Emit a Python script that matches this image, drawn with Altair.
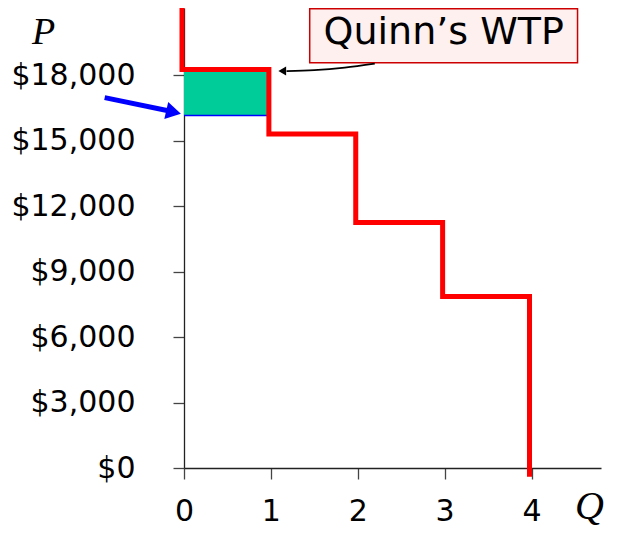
import altair as alt
import pandas as pd

# ---- data ----
q_units = [1, 2, 3, 4]
wtp = [18250, 15300, 11250, 7850]          # step heights (Quinn's WTP etc.)
p_top = 21500                              # red line runs off the top
p_bottom = -400                            # red line runs just past the axis
price_line = 16150                         # blue line (price)
y_ticks = [0, 3000, 6000, 9000, 12000, 15000, 18000]
x_ticks = [0, 1, 2, 3, 4]
x_max = 4.8
y_max = 21070

# annotation box / arrows (data coordinates)
box_x = [1.447, 4.53]
box_y = [18566, 21030]
label_pos = [2.99, 19430]
label_text = "Quinn\u2019s WTP"
curve_q = [2.196, 1.85, 1.50, 1.18]
curve_p = [18520, 18340, 18225, 18180]
curve_head = [1.131, 18180]
blue_start = [-0.913, 16963]
blue_end = [-0.14, 16330]
blue_head = [-0.12, 16300]

# ---- build tables ----
sq, sp = [0], [p_top]
for q, p in zip(q_units, wtp):
    sq += [q - 1, q]
    sp += [p, p]
sq.append(q_units[-1])
sp.append(p_bottom)
steps = pd.DataFrame({"q": sq, "p": sp, "o": list(range(len(sq)))})

xs = alt.Scale(domain=[0, x_max], nice=False, zero=False)
ys = alt.Scale(domain=[0, y_max], nice=False, zero=False)

xaxis = alt.Axis(
    values=x_ticks, tickSize=11, labelPadding=41, labelBaseline="alphabetic",
    labelFontSize=30, labelFont="DejaVu Sans", labelColor="#000",
    labelAngle=0, labelFlush=False, labelOverlap=False,
    title="Q", titleX=405, titleY=50, titleFont="Liberation Serif",
    titleFontStyle="italic", titleFontWeight="normal", titleFontSize=40,
    titleAlign="center", titleBaseline="alphabetic", titleColor="#000",
    grid=False, domainColor="#222", domainWidth=1.3, tickColor="#444", tickWidth=1.3,
)
yaxis = alt.Axis(
    values=y_ticks, format="$,.0f", tickSize=11, labelPadding=38,
    labelFontSize=30, labelFont="DejaVu Sans", labelColor="#000",
    labelFlush=False, labelOverlap=False,
    title="P", titleAngle=0, titleX=-141, titleY=35, titleFont="Liberation Serif",
    titleFontStyle="italic", titleFontWeight="normal", titleFontSize=38,
    titleAlign="center", titleBaseline="alphabetic", titleColor="#000",
    grid=False, domainColor="#222", domainWidth=1.3, tickColor="#444", tickWidth=1.3,
)

def X(f):
    return alt.X(f, type="quantitative", scale=xs, axis=xaxis)

def Y(f):
    return alt.Y(f, type="quantitative", scale=ys, axis=yaxis)

green = alt.Chart(pd.DataFrame({"x": [0], "x2": [1], "y": [price_line], "y2": [wtp[0]]})).mark_rect(
    color="#00cc99", x2Offset=-3
).encode(x=X("x"), x2="x2", y=Y("y"), y2="y2")

blue_rule = alt.Chart(pd.DataFrame({"x": [0], "x2": [1], "y": [price_line]})).mark_rule(
    color="#0000ff", strokeWidth=1.5, x2Offset=-3
).encode(x=X("x"), x2="x2", y=Y("y"))

red = alt.Chart(steps).mark_line(
    color="#ff0000", strokeWidth=5, strokeJoin="miter", strokeCap="butt", xOffset=-2, clip=False
).encode(x=X("q"), y=Y("p"), order="o:Q")

box = alt.Chart(pd.DataFrame({"x": [box_x[0]], "x2": [box_x[1]], "y": [box_y[0]], "y2": [box_y[1]]})).mark_rect(
    fill="#fff0f0", stroke="#cc0000", strokeWidth=1.5
).encode(x=X("x"), x2="x2", y=Y("y"), y2="y2")

txt = alt.Chart(pd.DataFrame({"x": [label_pos[0]], "y": [label_pos[1]], "t": [label_text]})).mark_text(
    font="DejaVu Sans", fontSize=38, color="#000", align="center", baseline="alphabetic"
).encode(x=X("x"), y=Y("y"), text="t:N")

curve = alt.Chart(pd.DataFrame({"x": curve_q, "y": curve_p, "o": list(range(len(curve_q)))})).mark_line(
    color="#000", strokeWidth=1.8, interpolate="monotone"
).encode(x=X("x"), y=Y("y"), order="o:Q")

curve_tip = alt.Chart(pd.DataFrame({"x": [curve_head[0]], "y": [curve_head[1]]})).mark_point(
    shape="triangle-left", size=80, filled=True, color="#000", opacity=1
).encode(x=X("x"), y=Y("y"))

blue_arrow = alt.Chart(pd.DataFrame({"x": [blue_start[0]], "x2": [blue_end[0]], "y": [blue_start[1]], "y2": [blue_end[1]]})).mark_rule(
    color="#0000ff", strokeWidth=5
).encode(x=X("x"), x2="x2", y=Y("y"), y2="y2")

blue_tip = alt.Chart(pd.DataFrame({"x": [blue_head[0]], "y": [blue_head[1]]})).mark_point(
    shape="triangle-right", size=300, filled=True, color="#0000ff", opacity=1, angle=13
).encode(x=X("x"), y=Y("y"))

chart = alt.layer(
    green, blue_rule, red, box, txt, curve, curve_tip, blue_arrow, blue_tip
).properties(
    width=417, height=460,
    autosize=alt.AutoSizeParams(type="none"),
    padding={"left": 176, "top": 0, "right": 11, "bottom": 61},
    background="white",
).configure_view(stroke=None)

chart.save("out.html", embed_options={"renderer": "svg", "actions": False})
